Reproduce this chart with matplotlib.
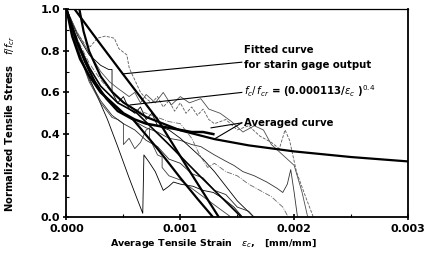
import numpy as np
import matplotlib
matplotlib.use("Agg")
import matplotlib.pyplot as plt
from matplotlib.ticker import MultipleLocator

# strain values are in units of 1e-3 mm/mm
t1_x = [0, 0.05, 0.12, 0.2, 0.28, 0.36, 0.45, 0.55, 0.62, 0.67, 0.68, 0.72, 0.78, 0.85, 0.9, 0.94, 1.0, 1.11, 1.2, 1.29, 1.38, 1.47, 1.55]
t1_y = [1, 0.9, 0.78, 0.67, 0.57, 0.47, 0.34, 0.19, 0.09, 0.02, 0.30, 0.27, 0.22, 0.13, 0.15, 0.17, 0.16, 0.15, 0.13, 0.12, 0.09, 0.05, 0.0]

t2_x = [0, 0.08, 0.15, 0.21, 0.27, 0.34, 0.42, 0.46, 0.53, 0.55, 0.565, 0.6, 0.65, 0.7, 0.75, 0.8, 0.85, 0.9, 0.95, 1.0, 1.05, 1.1, 1.15, 1.2, 1.25, 1.3, 1.4, 1.5, 1.6, 1.7, 1.8, 1.87, 1.92, 1.96, 2.02, 2.1, 2.17]
t2_y = [1, 0.9, 0.84, 0.82, 0.86, 0.87, 0.86, 0.81, 0.78, 0.72, 0.70, 0.66, 0.6, 0.57, 0.55, 0.58, 0.53, 0.56, 0.51, 0.55, 0.5, 0.53, 0.49, 0.52, 0.47, 0.45, 0.47, 0.42, 0.44, 0.39, 0.36, 0.33, 0.42, 0.37, 0.22, 0.1, 0.0]

t3_x = [0, 0.1, 0.2, 0.3, 0.4, 0.5, 0.6, 0.7, 0.8, 0.9, 1.0, 1.1, 1.18, 1.3, 1.4, 1.47, 1.55, 1.65, 1.76, 1.85, 1.9, 1.94, 1.97, 2.0, 2.03]
t3_y = [1, 0.82, 0.7, 0.61, 0.55, 0.5, 0.46, 0.43, 0.41, 0.38, 0.37, 0.35, 0.34, 0.3, 0.27, 0.25, 0.22, 0.2, 0.17, 0.14, 0.12, 0.16, 0.23, 0.12, 0.0]

t4_x = [0, 0.1, 0.2, 0.3, 0.37, 0.4, 0.4, 0.45, 0.5, 0.55, 0.6, 0.65, 0.7, 0.75, 0.8, 0.9, 1.0, 1.1, 1.2, 1.3, 1.4, 1.5, 1.65]
t4_y = [1, 0.87, 0.78, 0.73, 0.71, 0.71, 0.60, 0.55, 0.58, 0.52, 0.5, 0.53, 0.47, 0.5, 0.44, 0.42, 0.38, 0.33, 0.28, 0.22, 0.15, 0.08, 0.0]

t5_x = [0, 0.1, 0.2, 0.3, 0.4, 0.45, 0.5, 0.5, 0.55, 0.6, 0.65, 0.7, 0.73, 0.73, 0.8, 0.84, 0.84, 0.9, 1.0, 1.1, 1.2, 1.3, 1.4, 1.45]
t5_y = [1, 0.8, 0.65, 0.55, 0.48, 0.47, 0.45, 0.35, 0.38, 0.33, 0.36, 0.42, 0.43, 0.38, 0.3, 0.29, 0.24, 0.2, 0.18, 0.14, 0.1, 0.06, 0.02, 0.0]

t6_x = [0, 0.1, 0.2, 0.3, 0.4, 0.5, 0.6, 0.7, 0.8, 0.9, 1.0, 1.1, 1.17, 1.24, 1.3, 1.4, 1.5, 1.6, 1.7, 1.8, 1.9, 1.95]
t6_y = [1, 0.85, 0.74, 0.66, 0.6, 0.55, 0.52, 0.5, 0.48, 0.46, 0.45, 0.38, 0.3, 0.24, 0.26, 0.22, 0.2, 0.16, 0.13, 0.1, 0.05, 0.0]

t7_x = [0, 0.1, 0.2, 0.3, 0.38, 0.45, 0.55, 0.6, 0.65, 0.7, 0.78, 0.85, 0.92, 1.0, 1.08, 1.18, 1.25, 1.35, 1.45, 1.55, 1.65, 1.73, 1.8, 1.9, 2.0, 2.07, 2.12]
t7_y = [1, 0.88, 0.79, 0.7, 0.65, 0.62, 0.58, 0.6, 0.55, 0.59, 0.55, 0.6, 0.54, 0.58, 0.55, 0.57, 0.52, 0.5, 0.46, 0.41, 0.44, 0.42, 0.35, 0.3, 0.25, 0.12, 0.0]

t8_x = [0, 0.1, 0.2, 0.3, 0.4, 0.5, 0.6, 0.7, 0.8, 0.9, 1.0, 1.1, 1.2, 1.3, 1.4, 1.5, 1.6, 1.65]
t8_y = [1, 0.8, 0.66, 0.56, 0.49, 0.45, 0.42, 0.37, 0.34, 0.28, 0.26, 0.21, 0.19, 0.13, 0.11, 0.05, 0.03, 0.0]

fit_x = [0.07, 0.3, 0.5, 0.8, 1.05, 1.34]
fit_y = [1.0, 0.83, 0.685, 0.47, 0.25, 0.0]

power_x = [0.113, 0.15, 0.2, 0.3, 0.4, 0.5, 0.7, 1.0, 1.3, 1.6, 2.0, 2.5, 3.0]
power_y = [1.0, 0.893, 0.796, 0.677, 0.603, 0.552, 0.482, 0.418, 0.376, 0.346, 0.317, 0.290, 0.269]

avg_x = [0, 0.05, 0.12, 0.2, 0.3, 0.4, 0.5, 0.6, 0.7, 0.8, 0.9, 1.0, 1.1, 1.2, 1.29]
avg_y = [1, 0.87, 0.76, 0.68, 0.6, 0.55, 0.5, 0.47, 0.45, 0.44, 0.43, 0.42, 0.41, 0.41, 0.40]

thick2_x = [0, 0.08, 0.16, 0.25, 0.35, 0.45, 0.585, 0.8, 1.0, 1.15, 1.29]
thick2_y = [1, 0.86, 0.75, 0.65, 0.57, 0.51, 0.47, 0.33, 0.19, 0.09, 0.0]

thick3_x = [0, 0.1, 0.2, 0.3, 0.45, 0.62, 0.9, 1.17, 1.54]
thick3_y = [1, 0.84, 0.72, 0.63, 0.55, 0.5, 0.35, 0.2, 0.0]

k = 1e-3
fig = plt.figure(figsize=(4.29, 2.58), dpi=100)
ax = fig.add_axes([0.155, 0.157, 0.796, 0.808])

thin = [(t1_x, t1_y, 'k', '-'), (t2_x, t2_y, '0.35', '--'), (t3_x, t3_y, '0.2', '-'),
        (t4_x, t4_y, 'k', '-'), (t5_x, t5_y, '0.25', '-'), (t6_x, t6_y, '0.4', '-.'),
        (t7_x, t7_y, '0.3', '-'), (t8_x, t8_y, '0.15', '-')]
for xs, ys, c, ls in thin:
    ax.plot(np.array(xs) * k, ys, color=c, lw=0.6, ls=ls)

ax.plot(np.array(thick2_x) * k, thick2_y, color='k', lw=1.6)
ax.plot(np.array(thick3_x) * k, thick3_y, color='k', lw=1.2)
ax.plot(np.array(avg_x) * k, avg_y, color='k', lw=1.8)
ax.plot(np.array(fit_x) * k, fit_y, color='k', lw=1.6)
ax.plot(np.array(power_x) * k, power_y, color='k', lw=1.6)

ax.set_xlim(0, 0.003)
ax.set_ylim(0, 1.0)
ax.xaxis.set_minor_locator(MultipleLocator(0.0005))
ax.yaxis.set_minor_locator(MultipleLocator(0.1))
ax.set_yticks([0, 0.2, 0.4, 0.6, 0.8, 1.0])
ax.set_yticklabels(['0.0', '0.2', '0.4', '0.6', '0.8', '1.0'], fontsize=8, fontweight='bold')
ax.set_xticks([0, 0.001, 0.002, 0.003])
ax.set_xticklabels(['0.000', '0.001', '0.002', '0.003'], fontsize=8, fontweight='bold')
ax.tick_params(which='major', direction='inout', length=5, width=1.2, pad=2)
ax.tick_params(which='minor', direction='in', length=2.5, width=0.8)
for s in ax.spines.values():
    s.set_linewidth(1.3)
ax.spines['top'].set_linewidth(0.9)

ax.set_xlabel(r'Average Tensile Strain   $\epsilon_c$,   [mm/mm]', fontsize=6.8, fontweight='bold')
ax.xaxis.set_label_coords(0.432, -0.095)
ax.set_ylabel(r'Normalized Tensile Stress   $f/f_{cr}$', fontsize=7.2, fontweight='bold')
ax.yaxis.set_label_coords(-0.145, 0.45)

tkw = dict(fontsize=7.3, fontweight='bold', va='center', ha='left')
ax.text(1.56 * k, 0.805, 'Fitted curve', **tkw)
ax.text(1.56 * k, 0.73, 'for starin gage output', **tkw)
ax.text(1.56 * k, 0.608, r'$f_c/\,f_{cr}$ = (0.000113/$\epsilon_c$ )$^{0.4}$', **tkw)
ax.text(1.56 * k, 0.454, 'Averaged curve', **tkw)

ax.plot([1.54 * k, 0.497 * k], [0.745, 0.689], color='k', lw=0.8)
ax.plot([1.54 * k, 0.56 * k], [0.6, 0.54], color='k', lw=0.8)
ax.plot([1.54 * k, 1.27 * k], [0.454, 0.43], color='k', lw=0.8)
ax.plot([1.54 * k, 1.31 * k], [0.454, 0.38], color='k', lw=0.8)

fig.savefig('out.png', dpi=100)
